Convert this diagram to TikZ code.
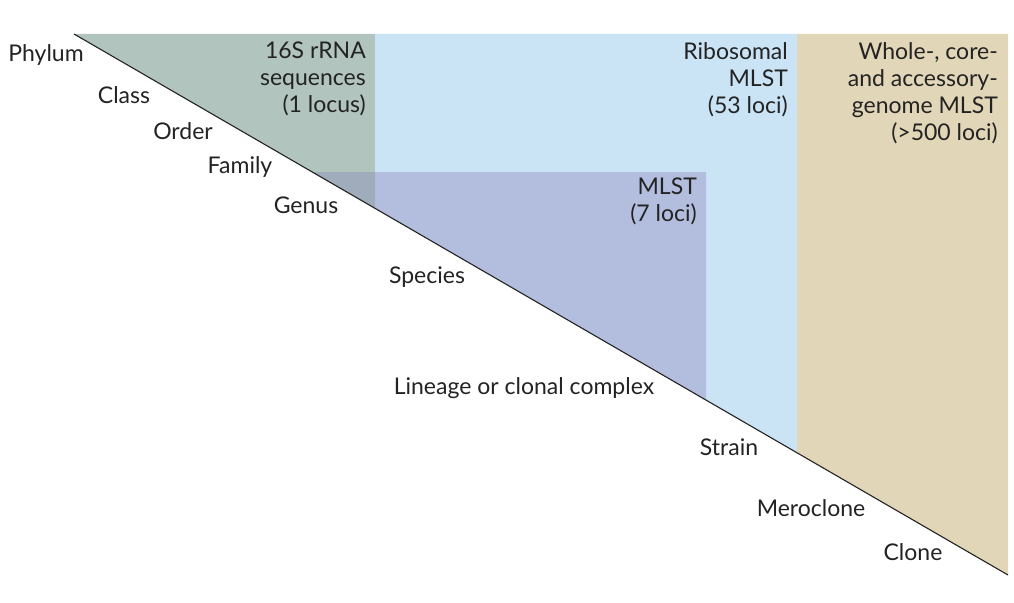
\documentclass[tikz,border=0pt]{standalone}
\usepackage{fontspec}
\setmainfont{Lato}
\usepackage{tikz}

\definecolor{rrnagreen}{RGB}{177,196,190}
\definecolor{rmlstblue}{RGB}{202,228,245}
\definecolor{wgmlsttan}{RGB}{226,214,184}
\definecolor{mlstpurple}{RGB}{179,190,223}
\definecolor{overlapgrey}{RGB}{160,172,187}
\definecolor{labelgrey}{RGB}{35,35,35}

\tikzset{
  rank/.style={font=\fontsize{23}{27}\selectfont, text=labelgrey, inner sep=0pt},
  scheme/.style={font=\fontsize{23}{27}\selectfont, text=labelgrey, align=right, anchor=north east, inner sep=0pt},
}

\begin{document}
\begin{tikzpicture}[x=1pt,y=1pt]
\useasboundingbox (0,0) rectangle (1014,-602);
% Drawing the shaded ranges
\coordinate (top) at (74,-34);
\coordinate (bottom) at (1008,-575);
\fill[rrnagreen] (top) -- (375,-34) -- (375,-208.3) -- cycle;
\fill[rmlstblue] (375,-34) -- (797,-34) -- (797,-452.8) -- (375,-208.3) -- cycle;
\fill[wgmlsttan] (797,-34) -- (1008,-34) -- (bottom) -- (797,-452.8) -- cycle;
\fill[mlstpurple] (375,-172) -- (706,-172) -- (706,-400) -- (375,-208.3) -- cycle;
\fill[overlapgrey] (312,-172) -- (375,-172) -- (375,-208.3) -- cycle;
% Done with ranges; drawing the diagonal
\draw[color=labelgrey, line width=1.1pt] (top) -- (bottom);
% Scheme labels
\node[scheme] (rrna) at (366,-42) {16S rRNA\\sequences\\(1 locus)};
\node[scheme] (rmlst) at (788,-42) {Ribosomal\\MLST\\(53 loci)};
\node[scheme] (wgmlst) at (998,-42) {Whole-, core-\\and accessory-\\genome MLST\\(>500 loci)};
\node[scheme] (mlst) at (697,-178) {MLST\\(7 loci)};
% Taxonomic ranks
\node[rank] (phylum) at (46,-55) {Phylum};
\node[rank] (class) at (124,-95) {Class};
\node[rank] (order) at (183,-131) {Order};
\node[rank] (family) at (240,-167) {Family};
\node[rank] (genus) at (306,-205) {Genus};
\node[rank] (species) at (427,-277) {Species};
\node[rank] (lineage) at (524,-388) {Lineage or clonal complex};
\node[rank] (strain) at (729,-447) {Strain};
\node[rank] (meroclone) at (811,-508) {Meroclone};
\node[rank] (clone) at (913,-552) {Clone};
\end{tikzpicture}
\end{document}
